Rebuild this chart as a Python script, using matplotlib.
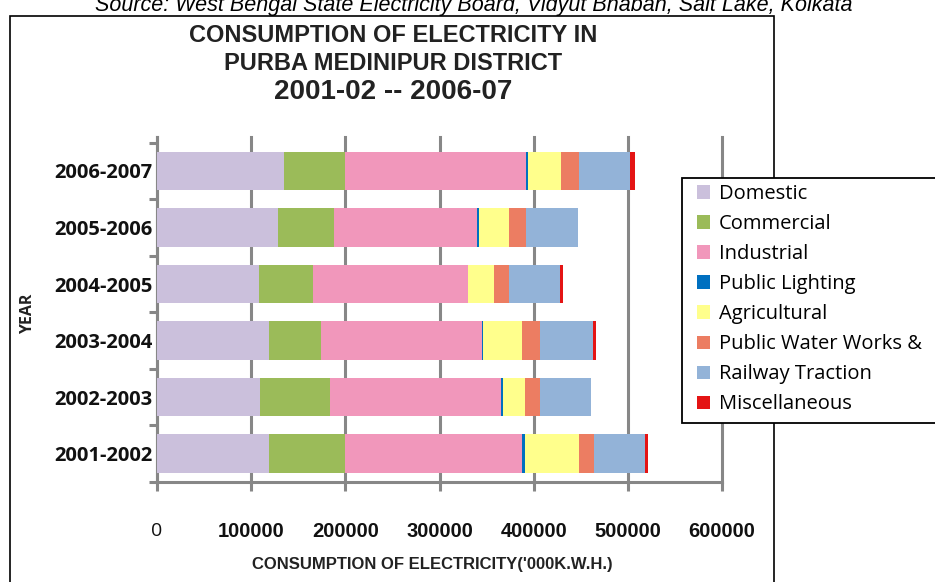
import matplotlib.pyplot as plt
import numpy as np

years = ["2001-2002", "2002-2003", "2003-2004", "2004-2005", "2005-2006", "2006-2007"]
domestic = [119100, 109600, 119100, 108500, 128700, 135100]
commercial = [80900, 74100, 55400, 56800, 58900, 64900]
industrial = [187600, 181200, 170200, 164800, 152500, 192200]
public_lighting = [2700, 2500, 2000, 400, 1800, 2000]
agricultural = [57800, 23000, 41300, 27200, 31900, 35200]
public_water = [16000, 16000, 18400, 16000, 18400, 18500]
railway = [54200, 55000, 56700, 54600, 55000, 54200]
misc = [3200, 0, 2900, 2800, 0, 5300]

series = [
    ("Domestic", domestic, "#cbc0dc"),
    ("Commercial", commercial, "#9bbb59"),
    ("Industrial", industrial, "#f197bb"),
    ("Public Lighting", public_lighting, "#0070c0"),
    ("Agricultural", agricultural, "#ffff8c"),
    ("Public Water Works &", public_water, "#ec7d62"),
    ("Railway Traction", railway, "#93b3d8"),
    ("Miscellaneous", misc, "#e41414"),
]
xticks = np.arange(0, 600001, 100000)

W, H = 935, 582
grey = "#878787"
fig = plt.figure(figsize=(W / 100, H / 100), dpi=100)

def fx(px):
    return px / W

def fy(py):
    return 1 - py / H

ax = fig.add_axes([fx(157), fy(482), fx(722) - fx(157), fy(137) - fy(482)])

y = np.arange(len(years))
left = np.zeros(len(years))
for name, vals, color in series:
    ax.barh(y, vals, left=left, height=0.68, color=color, label=name, zorder=3)
    left += np.array(vals)

ax.set_xlim(0, 600000)
ax.set_ylim(-0.5, 5.6)
ax.set_axisbelow(True)
ax.grid(axis="x", color=grey, lw=2.2, zorder=0)
for gl in ax.get_xgridlines():
    gl.set_clip_on(False)

for s in ["top", "right"]:
    ax.spines[s].set_visible(False)
for s in ["left", "bottom"]:
    ax.spines[s].set_color(grey)
    ax.spines[s].set_linewidth(2.2)

ax.set_yticks(y, years)
ax.set_yticks(np.arange(-0.5, 6, 1), minor=True)
ax.tick_params(axis="y", which="major", length=0, pad=3, labelsize=14.5)
ax.tick_params(axis="y", which="minor", length=5.8, width=2.2, color=grey)
for lab in ax.get_yticklabels():
    lab.set(family="Open Sans", weight="bold", color="#111111")

ax.set_xticks(xticks, [str(v) for v in xticks])
ax.tick_params(axis="x", length=6.5, width=2.2, color=grey, pad=22, labelsize=14.5)
for lab in ax.get_xticklabels():
    lab.set(family="Liberation Sans", weight="bold", color="#111111")
zero = ax.get_xticklabels()[0]
zero.set(family="Open Sans", weight="normal", fontsize=14)

ax.set_xlabel("CONSUMPTION OF ELECTRICITY('000K.W.H.)", family="Liberation Sans",
              weight="bold", fontsize=12, color="#222222")
ax.xaxis.set_label_coords((432 - 157) / 565, (482 - 557) / 345)
ax.set_ylabel("YEAR", family="Open Sans", weight="bold", fontsize=11.5, color="#222222")
ax.yaxis.set_label_coords((36 - 157) / 565, (482 - 314) / 345)

# outer frame of the original picture
fig.add_artist(plt.Rectangle((fx(10), -0.1), fx(774) - fx(10), fy(16) + 0.1,
                             fill=False, edgecolor="black", lw=1.2))

fig.text(fx(474), fy(11), "Source: West Bengal State Electricity Board, Vidyut Bhaban, Salt Lake, Kolkata",
         ha="center", va="baseline", style="italic", family="Liberation Sans", fontsize=15.5)
fig.text(fx(393), fy(36), "CONSUMPTION OF ELECTRICITY IN", ha="center", va="center",
         family="Liberation Sans", weight="bold", fontsize=17, color="#222222")
fig.text(fx(393), fy(63), "PURBA MEDINIPUR DISTRICT", ha="center", va="center",
         family="Liberation Sans", weight="bold", fontsize=17, color="#222222")
fig.text(fx(393), fy(92), "2001-02 -- 2006-07", ha="center", va="center",
         family="Liberation Sans", weight="bold", fontsize=20, color="#222222")

# legend box runs off the right edge
fig.add_artist(plt.Rectangle((fx(682), fy(423)), fx(1000) - fx(682), fy(178) - fy(423),
                             facecolor="white", edgecolor="black", lw=1.3, zorder=4))
leg = fig.legend(loc="upper left", bbox_to_anchor=(fx(697), fy(184)), frameon=False,
                 borderpad=0, borderaxespad=0, handlelength=0.65, handleheight=0.65,
                 handletextpad=0.45, labelspacing=0.5, prop={"family": "Open Sans", "size": 14.5})
leg.set_zorder(5)

fig.savefig("out.png", dpi=100)
